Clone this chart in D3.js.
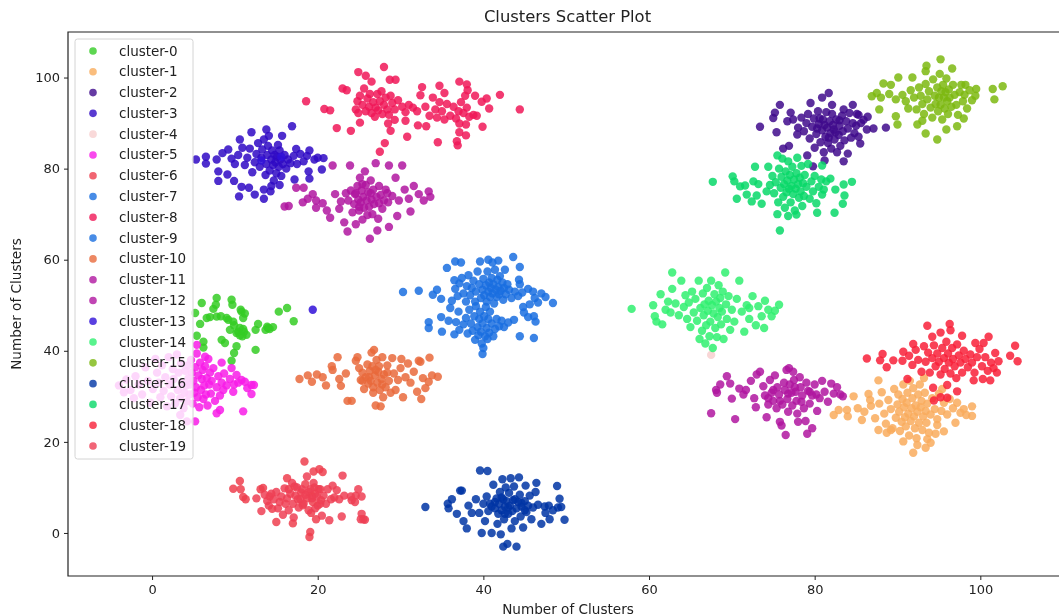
<!DOCTYPE html>
<html>
<head>
<meta charset="utf-8">
<title>Clusters Scatter Plot</title>
<script src="https://cdn.jsdelivr.net/npm/d3@7"></script>
<style>
    html, body { margin: 0; padding: 0; background: #fff; }
    svg { display: block; font-family: "DejaVu Sans", sans-serif; filter: blur(0.4px); }
</style>
</head>
<body>
<div id="chart"></div>
<script>
// values, [x, y]
var cluster0 = [[6,50.5],[7.8,51.6],[7.7,50.1],[7.4,49.2],[9.6,51.2],[9.7,50.1],[10.8,48.6],[11,47.2],[16.3,49.4],[15.3,48.6],[17.1,46.5],[14.6,45.2],[14,45],[13.7,44.6],[12.8,45.9],[12.5,44.6],[12.5,40.2],[10.2,41],[9.9,39.5],[9.6,37.8],[8.4,42.4],[8.8,41.7],[6.2,40.7],[6.2,42],[5.4,43.3],[5.8,45.9],[6.6,47.2],[7.8,47.5],[9,47.2],[9.8,46.4],[10.6,45],[10.2,43.9],[11.4,43.5],[9.4,44.6],[5.2,48.3],[8.3,47.6],[10.4,44.2],[11,44.8],[10.9,43.2],[9.2,46.8],[7,47.4],[13.9,45.3],[14.2,44.8],[10.7,49],[11.2,48.2],[9.9,45.6],[10.6,43.4],[11.1,44.2]];
var cluster1 = [[87.7,33.5],[82.3,25.9],[82.9,27],[84.7,30],[86.5,30.5],[83.9,27],[84,25.6],[85.7,24.8],[99,27.8],[99,25.7],[98,27.2],[97,24.2],[94.8,23.7],[94.6,21.8],[95.6,22.3],[94,19.8],[93.4,18.7],[91.9,17.6],[92.4,19.3],[90.7,20.1],[87.7,22.6],[88.7,22],[85.2,27.4],[86,26.6],[86.8,27.9],[87.3,25.2],[87.8,28.4],[88.1,30.9],[88.4,26.2],[88.6,24],[88.9,29.2],[89.2,27.2],[89.4,23],[89.6,31.6],[89.8,25.3],[90,28.2],[90.1,30.4],[90.2,26.6],[90.3,22.4],[90.5,24.4],[90.6,29.4],[90.7,32.6],[90.8,27.6],[90.9,25.4],[91,23.4],[91.1,28.6],[91.2,30.8],[91.3,26.2],[91.4,21.4],[91.5,33.4],[91.6,24.6],[91.7,27.4],[91.8,29.6],[91.9,31.8],[92,25.6],[92.1,23],[92.2,28],[92.3,20.8],[92.4,26.6],[92.5,30.4],[92.6,24.2],[92.7,32.6],[92.8,27.6],[92.9,29],[93,22.6],[93.1,25.6],[93.2,34],[93.3,30.8],[93.4,26.8],[93.5,24.2],[93.6,28.4],[93.8,22],[94,26],[94.2,29.6],[94.5,27.2],[94.8,25],[95,30.6],[95.3,26.8],[95.6,28.6],[96,26],[96.3,29.4],[96.7,27.4],[97.2,28.6],[97.6,26.4],[98.3,25.9],[86.7,29.2],[95.4,31.6],[89.2,22.6],[93.6,20.6]];
var cluster2 = [[73.4,89.2],[75,91.1],[75.2,92.3],[75.8,94],[75.4,88],[76.7,90.4],[77.1,92.3],[77.9,87.5],[76.2,84.4],[76.9,85],[79.5,94.4],[80.9,95.6],[81.7,96.6],[82.1,94],[84.6,94],[83.5,93],[85.3,91.8],[85.9,90.7],[86.3,88.6],[87.1,88.8],[88.6,89],[85.5,85.5],[85.3,87],[84,83.3],[83.5,81.6],[81.2,81.8],[79.8,80.5],[79.1,82.9],[77.4,90.8],[78,89],[78.4,91.2],[78.7,88.2],[79,90],[79.2,92],[79.4,86.6],[79.7,89.2],[79.9,91],[80,84.6],[80.2,87.6],[80.4,92.6],[80.5,89.8],[80.7,85.8],[80.9,88.4],[81,90.8],[81.1,83.6],[81.3,87],[81.4,92.4],[81.5,89],[81.6,85.6],[81.8,90.4],[81.9,87.8],[82,84.4],[82.1,92],[82.2,89.6],[82.4,86.4],[82.5,88],[82.6,90.8],[82.7,83.6],[82.9,87.4],[83,89.4],[83.1,85],[83.3,91.6],[83.4,88.2],[83.6,86.2],[83.8,90.4],[84,88.8],[84.2,92.2],[84.4,86.8],[84.6,90],[84.8,87.8],[85,89.4],[85.1,92],[85.6,90],[86.4,91.4],[80.6,91],[81.2,89.6],[82.3,88.6],[83,90.6],[81.7,86.8],[80.3,88.8]];
var cluster3 = [[5.3,82],[6.5,82.6],[6.5,81.1],[7.8,82],[8.5,83.4],[8,79.4],[8,77.3],[9.1,78.7],[9.9,77.3],[10.5,73.9],[10.8,76],[11.7,75.8],[12.4,74.3],[13.5,73.4],[13.5,75.4],[14.3,75],[10.6,86.4],[12,88],[13.8,88.6],[15.7,87.2],[16.9,89.3],[17.4,84.3],[19,84],[20.7,82.3],[20.5,79.8],[18.9,79.4],[19,77.8],[17.2,77.6],[9.2,84.2],[9.6,82.2],[10,81],[10.4,83],[10.9,84.6],[11.2,80.8],[11.5,82.4],[11.8,84.4],[12.1,79.2],[12.4,81.4],[12.6,83.2],[12.8,85.6],[13,80.4],[13.2,82.4],[13.3,84.2],[13.5,86.4],[13.7,78.6],[13.8,81],[13.9,83],[14,85],[14.1,87.2],[14.2,79.6],[14.4,82],[14.5,84],[14.6,80.8],[14.7,77.4],[14.8,83],[14.9,81.4],[15,79],[15.1,82.6],[15.2,85.2],[15.3,80.4],[15.4,84],[15.5,82],[15.6,78.4],[15.8,81],[16,83],[16.2,80],[16.4,82],[16.7,81.2],[17.1,82.8],[17.5,81],[17.9,83.2],[18.3,81.6],[18.7,82.8],[19.6,82],[20,82.4],[15.4,76.4],[14.4,76.2]];
var cluster4 = [[67.5,39.1]];
var cluster5 = [[12,32.5],[12.3,32.5],[12,30.5],[11,26.7],[8.2,27],[7.8,26.3],[5.2,24.5],[4.2,24.5],[3.4,25.9],[8.4,37.4],[9.6,36.2],[10.2,34.7],[10.8,33.6],[9.8,31],[8.6,31.4],[6.4,38.7],[5.4,41.3],[-4,32.4],[-3.4,30.9],[-3.1,33.7],[-2.6,31.4],[-2.2,29.6],[-2,34.4],[-1.6,32.6],[-1.2,30.4],[-0.8,36.4],[-0.5,33.4],[-0.2,28.6],[0.1,31.6],[0.4,38.2],[0.6,35.2],[0.8,33],[1,29.8],[1.2,36.8],[1.4,31.2],[1.6,34.2],[1.8,27.8],[2,38.6],[2.1,32.6],[2.3,30],[2.5,36],[2.6,33.8],[2.8,28.4],[3,39.2],[3.1,31.4],[3.2,35.2],[3.4,29.6],[3.5,37.2],[3.6,33],[3.8,27.4],[3.9,30.8],[4,35.6],[4.1,32.4],[4.2,28.9],[4.3,36.8],[4.4,34],[4.5,30.4],[4.6,32.6],[4.7,38],[4.8,35.2],[4.9,28.4],[5,33.4],[5.1,30.8],[5.2,36.4],[5.3,32],[5.4,39.4],[5.5,29.8],[5.6,34.6],[5.7,27.6],[5.8,37.4],[5.9,31.4],[6,33.8],[6.1,35.8],[6.2,29.4],[6.3,32.4],[6.4,36.6],[6.5,30.4],[6.6,34],[6.7,28],[6.8,38.2],[6.9,32.6],[7,35.2],[7.1,30.6],[7.2,33.4],[7.4,36.2],[7.6,29],[7.8,32],[8,34.4],[8.2,30.2],[8.4,33],[8.7,35],[9,32.4],[9.4,33.8],[9.9,32.6],[10.4,33],[11.2,33.2],[11.5,31.8]];
var cluster6 = [[9.8,9.7],[10.6,11.4],[10.7,9.6],[11,7.9],[11.3,7.4],[13.1,9.6],[13.4,9.9],[14.2,8],[14.5,5.3],[15,2.4],[16.3,12],[16.5,9.6],[17,2.1],[17.2,10.2],[17.6,7.4],[18,8.9],[18.2,6.1],[18.4,15.7],[18.5,10.7],[18.7,7.6],[18.9,9],[19,-0.9],[19.1,0.2],[19.2,4.4],[19.3,8.2],[19.4,6.8],[19.5,13.5],[19.6,10],[19.7,8.6],[19.8,3],[20,6],[20.2,14],[20.3,9.6],[20.4,7.2],[20.6,13.4]];
var cluster7 = [[33.4,45],[33.4,46.3],[34.9,47.4],[35.8,46.6],[35,44.2],[36,49.4],[36.5,43.6],[36.7,46.3],[37,48.6],[37.1,44.6],[37.6,45.8],[37.9,47.2],[38.1,43.8],[38.3,49],[38.5,46],[38.7,44.4],[38.9,47.6],[39,42.4],[39.1,49.8],[39.3,45.2],[39.4,43.4],[39.5,47],[39.6,48.6],[39.7,44.2],[39.8,41.6],[39.9,46],[39.9,39.3],[40,40.6],[40.1,47.6],[40.2,43.2],[40.3,49.6],[40.4,45],[40.5,42.6],[40.6,47],[40.7,44],[40.8,48.6],[41,46],[41.2,43.2],[41.4,44.8],[41.6,47],[41.9,45.4],[42.2,46.6],[42.5,45.2],[43,46.2],[43.7,46.8],[44.4,43.2],[46.1,42.8]];
var cluster8 = [[18.6,94.8],[20.8,93.1],[21.5,92.8],[22.3,88.9],[24,88.3],[25.1,90.1],[23,97.6],[23.5,97.2],[24.9,101.2],[25.8,100.4],[26.5,99.1],[28,102.3],[28.7,99.5],[29.4,99.5],[27.5,83.7],[28.1,85.6],[28.8,88.3],[28.5,89.9],[29.3,90.7],[30.6,90.5],[30.8,87],[32.1,89.5],[33.1,89.3],[34.5,85.8],[36.8,86],[36.9,85.1],[37.1,88],[37.9,87.3],[37.9,89.7],[37.1,89.9],[39.9,89.2],[40.7,93.2],[42,96.2],[44.4,93],[40.4,95.4],[39.8,94.7],[39,96],[38,98.5],[37.1,99.1],[38.1,97.2],[34.7,98.2],[32.6,97.9],[35.3,96.6],[32.4,96.1],[24.6,93],[24.8,94.8],[24.9,92.2],[25.1,96],[25.4,94],[25.6,97.6],[25.8,92.6],[26,95.4],[26.2,93.6],[26.3,96.4],[26.5,92.2],[26.7,94.6],[26.9,91.4],[27,93.4],[27.2,96.4],[27.3,92.8],[27.5,94.8],[27.7,97],[27.8,92],[28,94],[28.2,95.6],[28.4,93],[28.6,91.8],[28.8,96],[29,94.4],[29.3,93],[29.7,95],[30.2,93.6],[30.6,92.4],[31,94],[31.5,93.4],[32,92.6],[33,93.6],[33.5,91.6],[33.9,95.6],[34.2,93],[34.4,91.2],[34.7,94.6],[35,92.6],[35.3,90.8],[35.6,94.2],[36,91.6],[36.4,93.6],[36.7,91],[37,92.6],[37.3,94.6],[37.6,92.2],[37.8,96],[38,93.4],[38.3,91.4],[38.8,91.8],[39.2,91.6]];
var cluster9 = [[30.3,52.9],[32.2,53.2],[33.9,52.3],[34.4,53.4],[34.9,51.4],[35.6,58.2],[36.6,59.6],[37.3,59.4],[39.6,59.6],[40.6,60],[41.1,59.4],[41.8,59.8],[43.6,60.6],[44.4,58.4],[42.6,57.8],[44.3,55.6],[44.4,54.6],[45.4,53.6],[46,53],[47,52.6],[47.5,51.8],[46.2,51.6],[48.4,50.5],[46.6,50.6],[45.6,50.2],[36.2,51],[36.5,55.5],[36.6,53.6],[36.9,52],[37.1,54.8],[37.4,56],[37.6,52.6],[37.9,50.8],[38,54.2],[38.2,56.6],[38.4,52.2],[38.6,53.8],[38.8,55.4],[39,50.8],[39.1,53],[39.3,57.4],[39.5,54.6],[39.7,51.6],[39.9,53.4],[40,55.8],[40.1,52.2],[40.3,54.4],[40.4,50.8],[40.5,57.4],[40.6,53],[40.7,55],[40.8,51.8],[40.9,53.8],[41,56],[41.1,52.6],[41.2,54.6],[41.3,50.4],[41.4,57.8],[41.5,53.4],[41.6,51.8],[41.7,55.6],[41.8,54],[41.9,52.4],[42,56.4],[42.1,53.2],[42.3,55],[42.4,51.2],[42.5,53.8],[42.7,52.4],[42.9,54.6],[43.1,53.4],[43.4,51.6],[43.8,53],[44.2,52],[44.7,52.8],[44.9,48.4],[46.1,47.6],[46.3,46.4],[45.4,47.4],[44.8,49.6]];
var cluster10 = [[17.8,33.8],[18.8,34.6],[19.3,33.2],[19.9,34.8],[20.6,34.2],[21,32.4],[21.7,36.6],[21.8,35.8],[22.4,38.6],[22.6,33.8],[22.8,32.3],[23.4,35],[23.6,29],[24.1,29],[24.6,37.8],[24.8,38.6],[25,36.2],[25.2,33.6],[25.4,35.2],[25.6,31.6],[25.8,34.2],[26,37],[26.1,32.8],[26.3,35.6],[26.4,33.4],[26.5,39.6],[26.6,36.6],[26.7,30.8],[26.8,40.2],[26.9,34.6],[27,28],[27.1,38],[27.2,33],[27.3,35.4],[27.4,36.6],[27.5,31.4],[27.6,27.8],[27.7,33.8],[27.8,38.6],[27.9,29.8],[28,34.8],[28.2,32],[28.4,36.8],[28.6,33.4],[28.8,30.8],[29,38.4],[29.2,35],[29.4,31.4],[29.7,33.6],[30,36.2],[30.3,29.8],[30.6,34.2],[30.9,37.2],[31.2,33],[31.6,35.4],[32,31],[32.4,37.6],[32.7,34],[33,31.8],[33.4,33.2],[33.8,34.6],[34.5,34.3],[32.2,37.8],[33.5,38.5],[32.5,29.4],[30.1,38.2],[26.2,34.2],[27,35.8],[27.8,32.6],[28.4,35.2],[25.4,33.4],[26.7,32]];
var cluster11 = [[16,71.7],[16.5,71.8],[17.4,75.8],[18.3,75.8],[18.2,72.6],[18.8,73.4],[19.4,74.4],[19.8,73],[19.8,71.4],[20.6,72.4],[21.1,70.8],[21.5,69.2],[21.8,80.7],[22.1,74.4],[22.6,71.2],[23.2,68.2],[23.6,66.2],[23.9,80.7],[23.7,73],[24,75.2],[24.2,70.4],[24.4,72.2],[24.5,74.4],[24.6,67.8],[24.8,76.2],[24.9,73.2],[25,70.8],[25.1,78],[25.2,72.6],[25.3,75.2],[25.4,68.8],[25.5,73.8],[25.6,71.4],[25.7,79.4],[25.8,76.4],[25.9,73],[26,69.8],[26.1,74.8],[26.2,71.6],[26.3,64.6],[26.4,77.4],[26.5,73.2],[26.6,70],[26.7,75.4],[26.8,72.2],[27,81.2],[27.1,73.8],[27.3,69],[27.4,76.2],[27.6,74.2],[27.8,71.2],[28,73],[28.2,75.4],[28.6,80.7],[28.5,72.6],[29,74],[29.4,78],[29.8,73],[30.2,80.7],[30.5,75.4],[31,73.4],[31.6,76.2],[32.2,74.4],[32.8,73],[33.4,75],[33.6,73.8],[29.6,69.6],[28.6,67.2],[27.2,66.4],[31.2,70.6],[24.6,74.6],[25.4,76.6],[26.4,74.6],[27.4,72.4],[28.4,74.6],[25,71.6],[23.4,74.6],[22.8,72.8]];
var cluster12 = [[67.5,26.3],[68.1,31.4],[68.2,30.8],[68.6,32.6],[69.4,34.4],[69.8,32.8],[70,29.5],[70.4,25],[70.9,31.7],[71.4,30.4],[71.7,31.4],[72.3,33.4],[72.7,29.6],[72.9,27.6],[73,34.8],[73.4,35.4],[73.8,32.2],[74,30.2],[74.2,25.4],[74.4,28.2],[74.6,33.6],[74.8,30.8],[75,29],[75.2,34.6],[75.4,27.4],[75.5,32],[75.7,30.4],[75.8,24.4],[76,23.6],[76.1,28.2],[76.3,33],[76.4,31.4],[76.5,21.5],[76.6,35.8],[76.7,29.4],[76.8,26.6],[76.9,36.2],[77,32.6],[77.2,30.8],[77.3,28],[77.4,35.4],[77.5,33.6],[77.7,31],[77.8,29],[77.9,26.2],[78,24.4],[78.2,34.2],[78.3,32],[78.5,30.2],[78.7,27.4],[78.9,24.6],[79,33],[79.2,31.2],[79.4,28.4],[79.7,30.2],[80,32.6],[80.3,26.8],[80.6,29.6],[80.9,33.4],[81.2,31],[81.6,28.8],[82,32.8],[82.3,30.6],[82.7,32],[83.1,30.4],[83.4,30],[79.7,23],[79.1,21.8],[75,31.4],[75.8,29],[76.8,30.6],[77.6,32],[78.4,28.8],[79.4,31],[80.2,30.4],[74.4,29.6]];
var cluster13 = [[19.4,49],[15.6,82.6],[13.2,81.8]];
var cluster14 = [[57.9,49.2],[60.5,50],[60.7,47.6],[60.9,46.4],[61.4,52.4],[61.6,45.8],[62,49],[62.3,50.8],[62.8,57.2],[62.6,48.4],[62.8,53.6],[63.2,50.4],[63.6,47.8],[63.9,55.4],[64.2,49.6],[64.4,52.2],[64.6,47],[64.8,50.6],[65,45.2],[65.2,53],[65.4,48.4],[65.6,51.4],[65.8,46.6],[66,55.4],[66.1,42.6],[66.2,49.4],[66.4,44.4],[66.5,52.6],[66.6,47.8],[66.7,50.2],[66.8,41.6],[66.9,45.6],[67,53.8],[67.1,48.8],[67.2,51],[67.3,43.2],[67.4,46.4],[67.5,55.4],[67.6,50],[67.7,40.6],[67.8,48.2],[67.9,52.4],[68,45],[68.1,50.8],[68.2,43],[68.3,47.4],[68.4,54.4],[68.5,49.4],[68.6,51.6],[68.7,45.8],[68.8,48.6],[68.9,53],[69,42.6],[69.2,57.2],[69.3,50.2],[69.4,47],[69.6,52],[69.8,44.6],[70,49],[70.3,46.4],[70.6,51.4],[70.9,55.4],[71.2,48.6],[71.5,44.2],[71.8,50],[72.1,47],[72.5,52],[72.9,45.6],[73.2,49.8],[73.6,47.6],[74,51],[74.4,49],[74.8,47.6],[75.2,48.8],[75.7,50.1],[73.9,45],[72.1,49.4]];
var cluster15 = [[86.9,95.9],[88.3,98.7],[89.2,98.4],[90.1,100],[91.8,100],[87.8,93],[89.8,91.5],[90,89.7],[92.4,89.7],[93,90.5],[93.4,87.7],[94.8,86.4],[95.9,88.6],[97.2,89.3],[98,91],[96.6,102],[93.5,102.6],[93.4,101.4],[95.2,104],[99.5,97.5],[98.2,98.4],[101.5,97.5],[102.7,98.1],[101.7,95.2],[87.5,96.6],[88,95.6],[89,96.4],[89.8,95.2],[90.6,96.2],[91,94.8],[91.3,93.2],[91.6,97.2],[92,95.6],[92.3,93],[92.6,97.8],[92.8,96],[93,94.2],[93.2,92],[93.4,98.6],[93.6,95.2],[93.8,97],[94,93.4],[94.2,91.2],[94.3,99.6],[94.5,96],[94.6,94.2],[94.8,97.8],[94.9,92.6],[95,95.6],[95.1,100.8],[95.2,94],[95.3,97],[95.4,90.8],[95.5,98.4],[95.6,95.6],[95.7,93.2],[95.8,96.8],[95.9,99.8],[96,94.8],[96.1,92],[96.2,97.4],[96.3,95.6],[96.5,93.6],[96.7,98.4],[96.9,96.2],[97.1,94],[97.3,91.8],[97.5,96.8],[97.7,98.4],[97.9,94.8],[98.1,96.2],[98.4,93.2],[98.7,97.2],[99,95],[99.4,96]];
var cluster16 = [[33,5.7],[35.7,6.4],[35.8,5.4],[36.2,7.4],[36.8,4.2],[37.2,9.3],[37.4,9.3],[37.6,2.6],[38,1],[38.2,6],[38.6,4.4],[39.1,7.4],[39.6,13.7],[40.5,13.6],[39.5,4.4],[39.8,0],[40,6.4],[40.2,2.6],[40.4,8],[40.6,4.8],[40.8,6.4],[41,0],[41.2,10.6],[41.4,5.4],[41.6,7.6],[41.7,2],[41.8,4.2],[41.9,6.4],[42,9],[42.1,-0.3],[42.2,5],[42.3,11.8],[42.4,7.4],[42.4,-3],[42.5,3],[42.6,5.8],[42.7,10],[42.8,7],[42.9,-2.4],[43,4.2],[43.1,8.8],[43.2,6],[43.3,12],[43.4,1],[43.5,4.8],[43.6,7.2],[43.7,10.2],[43.8,2.6],[44,-3],[44,5.4],[44.2,6.8],[44.3,12.2],[44.4,8.4],[44.5,3.6],[44.6,5.8],[44.8,1.2],[45,7],[45.1,10.4],[45.2,4.6],[45.4,6],[45.6,8.2],[45.8,3],[46,5.6],[46.3,9],[46.6,6.2],[47,2],[47.4,5.8],[47.9,6],[48,3],[48.4,5],[49,5.6],[49.2,7.5],[49.4,5.7],[49.8,2.9],[46.4,11],[47.5,4.4],[48.9,10.3],[41.4,6.8],[42.2,7.8],[43,5.6],[43.8,7.4],[44.6,6.6],[42.6,4.2],[41,5.8],[45,5]];
var cluster17 = [[67.7,77.1],[70.1,78.3],[70.3,77.2],[71,76.1],[71.6,76.3],[72.6,77.2],[72.8,80.4],[74.4,80.4],[71.8,74.3],[70.6,73.4],[72.4,72.8],[73.6,72.3],[73,74.1],[74.2,75],[75.5,70],[76.8,69.6],[77.8,69.9],[75.8,66.4],[80.3,70.3],[82.4,70.3],[83.4,72.3],[83.6,74.1],[84.5,77.1],[83.5,76.5],[81.9,77.8],[82.5,75.4],[80.9,74.3],[80.9,80.7],[73.2,76.6],[74.6,76.4],[74.9,78.4],[75.1,74.6],[75.3,77],[75.5,82.9],[75.6,72.6],[75.7,80],[75.9,75.8],[76,78.2],[76.1,82.2],[76.2,73.8],[76.3,76.6],[76.4,71.4],[76.5,79.4],[76.6,74.8],[76.7,77.4],[76.8,81.6],[76.9,75.6],[77,78.6],[77.1,72.6],[77.2,76.2],[77.3,80.4],[77.4,74.4],[77.5,77.6],[77.6,70.8],[77.7,75.6],[77.8,79],[77.9,82.4],[78,76.6],[78.1,73.6],[78.2,78],[78.3,75],[78.4,80.6],[78.5,71.8],[78.6,76.8],[78.7,74],[78.8,78.6],[79,76],[79.2,81],[79.4,73.4],[79.6,77.2],[79.8,75],[80,78.4],[80.2,72.4],[80.5,76],[80.8,77.6],[81.1,75.4],[81.4,77.2]];
var cluster18 = [[93.6,45.5],[96.3,45.9],[96.4,44.5],[95.2,44],[94.2,43.1],[97.8,43.3],[101,43.1],[104.2,41.1],[103.6,38.9],[104.5,37.7],[86.3,38.3],[88.2,39.3],[87.9,37.9],[89.5,37.9],[88.7,36.4],[91.9,41.5],[90.7,39.8],[91.2,33.8],[94.3,31.9],[94.4,29.1],[95.2,29.8],[96,29.7],[97.2,31.1],[96,32.5],[99.2,33.5],[100.3,33.8],[101.2,33.5],[102,35.2],[102.2,37.7],[101.8,39.5],[100.4,41.7],[99.4,41.7],[90.6,37.8],[91.4,38.9],[91.8,36.9],[92.2,40.2],[92.5,38],[92.9,35.4],[93.2,41],[93.4,37.6],[93.7,39.6],[93.9,35.2],[94.2,38.4],[94.4,41.2],[94.6,36.6],[94.8,39.4],[95,37.6],[95.2,34.8],[95.4,40.6],[95.6,38.4],[95.7,36],[95.9,42],[96.1,39.4],[96.2,37.4],[96.4,35],[96.6,40.6],[96.7,38.2],[96.9,36.6],[97.1,34],[97.2,41.4],[97.4,39],[97.6,37.4],[97.8,35.2],[98,40],[98.2,38.2],[98.5,36.4],[98.8,39.2],[99,37.4],[99.3,35.2],[99.6,38.6],[99.9,40.4],[100.2,36.6],[100.6,38.6],[100.9,35.6],[101.3,37.4],[101.6,36.2]];
var cluster19 = [[12.6,7.6],[13.2,4.8],[13.6,8.4],[13.9,7],[14.1,6],[14.4,8.6],[14.7,7.4],[15,9],[15.2,5.4],[15.4,6.8],[15.6,8],[15.8,4],[16,9.8],[16.1,6.4],[16.3,7.6],[16.5,5],[16.7,8.6],[16.9,11],[17,6.4],[17.1,3.4],[17.3,8.2],[17.5,10],[17.7,5.6],[17.9,7.4],[18.1,9.6],[18.3,6.4],[18.5,8.4],[18.7,12.4],[18.9,5],[19.1,9.6],[19.3,7.6],[19.5,11],[19.7,5.4],[19.9,8],[20.1,9.6],[20.3,6.4],[20.5,3.8],[20.7,8.2],[21,6.4],[21.2,9.6],[21.4,2.8],[21.6,7.4],[21.8,10.4],[22,7.8],[22.3,9.4],[22.6,7.4],[22.9,3.6],[23,12.6],[23.2,8.2],[24,8],[24.1,7.2],[24.6,8.2],[24.9,9.6],[25.3,8],[25.5,3],[25.7,2.9],[25.2,3],[25.3,4.2],[24.5,6.8]];

var clusters = [cluster0, cluster1, cluster2, cluster3, cluster4, cluster5, cluster6, cluster7, cluster8, cluster9,
    cluster10, cluster11, cluster12, cluster13, cluster14, cluster15, cluster16, cluster17, cluster18, cluster19];
var clusterNames = d3.range(20).map(function(i) { return "cluster-" + i; });
var clusterColors = ["#35cc25", "#f9ac5d", "#3f0a8c", "#2f09c4", "#f7cfcf", "#f81ce8", "#ee3f4f", "#1a6fe0", "#f01858", "#1a6fe0",
    "#e96a3c", "#b016a0", "#b016a0", "#3010d8", "#30f070", "#7cb810", "#0035a5", "#08d868", "#f82038", "#ee3f55"];
var xTicks = [0, 20, 40, 60, 80, 100];
var yTicks = [0, 20, 40, 60, 80, 100];

var width = 1059, height = 616;
var plotArea = { left: 68, right: 1059, top: 32, bottom: 576 };

var svg = d3.select("#chart").append("svg")
    .attr("width", width)
    .attr("height", height);

var xScale = d3.scaleLinear().domain([-10.15, 109.5]).range([plotArea.left, plotArea.right]);
var yScale = d3.scaleLinear().domain([-9.45, 110]).range([plotArea.bottom, plotArea.top]);

svg.append("clipPath").attr("id", "plot-clip").append("rect")
    .attr("x", plotArea.left).attr("y", plotArea.top)
    .attr("width", plotArea.right - plotArea.left)
    .attr("height", plotArea.bottom - plotArea.top);

// points first, legend goes on top of them
let pointGroups = svg.append("g").attr("clip-path", "url(#plot-clip)")
    .selectAll("g")
    .data(clusters)
    .join("g")
    .attr("fill", function(d, i) { return clusterColors[i]; })
    .attr("fill-opacity", 0.85);
pointGroups.selectAll("circle")
    .data(function(d) { return d; })
    .join("circle")
    .attr("cx", function(d) { return xScale(d[0]); })
    .attr("cy", function(d) { return yScale(d[1]); })
    .attr("r", 4.2);

// axes
let xAxis = d3.axisBottom(xScale).tickValues(xTicks).tickSize(4).tickPadding(5).tickFormat(d3.format("d"));
let yAxis = d3.axisLeft(yScale).tickValues(yTicks).tickSize(4).tickPadding(4).tickFormat(d3.format("d"));
svg.append("g").attr("class", "axis")
    .attr("transform", "translate(0," + plotArea.bottom + ")")
    .call(xAxis);
svg.append("g").attr("class", "axis")
    .attr("transform", "translate(" + plotArea.left + ",0)")
    .call(yAxis);
svg.selectAll(".axis .domain").remove();
svg.selectAll(".axis text").attr("font-size", 13).attr("font-family", "DejaVu Sans").attr("fill", "#222");
svg.selectAll(".axis line").attr("stroke", "#222");

// spines, right one is cut off by the picture edge
svg.append("path")
    .attr("d", "M" + plotArea.right + "," + plotArea.top + "H" + plotArea.left + "V" + plotArea.bottom + "H" + plotArea.right)
    .attr("fill", "none")
    .attr("stroke", "#222")
    .attr("stroke-width", 1.2);

// titles
svg.append("text").attr("x", 567.5).attr("y", 22)
    .attr("text-anchor", "middle").attr("font-size", 16.4).attr("fill", "#222")
    .text("Clusters Scatter Plot");
svg.append("text").attr("x", 568).attr("y", 614)
    .attr("text-anchor", "middle").attr("font-size", 13.6).attr("fill", "#222")
    .text("Number of Clusters");
svg.append("text")
    .attr("transform", "translate(21,304) rotate(-90)")
    .attr("text-anchor", "middle").attr("font-size", 13.6).attr("fill", "#222")
    .text("Number of Clusters");

// legend
let legend = svg.append("g");
legend.append("rect")
    .attr("x", 75).attr("y", 39).attr("width", 118).attr("height", 420).attr("rx", 2.5)
    .attr("fill", "#fff").attr("fill-opacity", 0.8)
    .attr("stroke", "#d4d4d4").attr("stroke-width", 1);
let legendRow = d3.scalePoint().domain(clusterNames).range([51, 446]);
let legendItems = legend.selectAll("g.item")
    .data(clusterNames)
    .join("g")
    .attr("class", "item")
    .attr("transform", function(d) { return "translate(0," + legendRow(d) + ")"; });
legendItems.append("circle")
    .attr("cx", 93).attr("cy", 0).attr("r", 3.8)
    .attr("fill", function(d, i) { return clusterColors[i]; })
    .attr("fill-opacity", 0.8);
legendItems.append("text")
    .attr("x", 119).attr("y", 4.5)
    .attr("font-size", 13.5).attr("fill", "#222")
    .text(function(d) { return d; });
</script>
</body>
</html>
